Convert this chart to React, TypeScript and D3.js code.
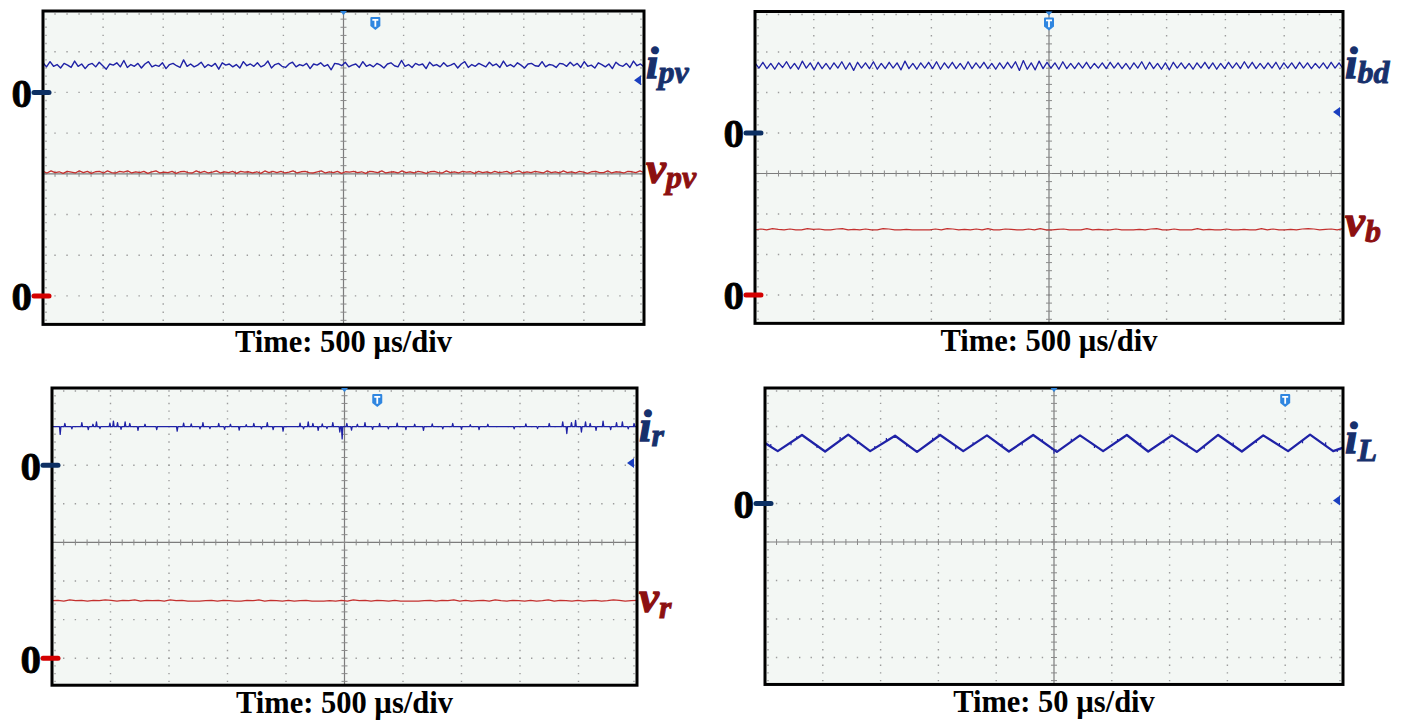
import React from "react";
import * as d3 from "d3";

const SERIF = '"Liberation Serif", "Times New Roman", Times, serif';

// ---- data (screen divisions; noise in 1/70 div for currents, 1/100 div for voltages) ----
const timeLabels = ["Time: 500 µs/div", "Time: 500 µs/div", "Time: 500 µs/div", "Time: 50 µs/div"];

const ipvLevel = 2.67;
const ipvNoise = [4,-3,6,-2,1,-5,3,0,-4,7,-2,2,-6,1,3,-3,5,-1,-7,2,0,4,-3,8,-4,1,-2,3,-5,2,6,-3,0,-2,4,-6,1,3,-1,-4,9,-2,2,-3,0,5,-4,1,-2,3,-7,4,0,2,-3,1,-5,6,-1,2,-2,4,-3,0,7,-5,1,3,-2,-4,2,5,-3,1,-1,3,-6,2,0,4,-2,1,-8,3,2,-1,5,-3,0,2,-4,6,-2,1,-3,3,0,-5,2,4,-1,-3,8,-2,1,-4,3,0,2,-6,5,-1,1,-3,4,-2,0,3,-5,2,6,-4,1,-2,3,0,-3,5,-1,2,-4,7,-2,1,-3,4,0,-5,2,3,-1,-2,6,-3,1,0,-4,3,2,-2,5,-1,3,-4,6,-2,0,-5,4,1,-3,2,-6,5,0,-2,3,-4,7,-1,2,-3];
const vpvLevel = 0.04;
const vpvNoise = [2,-2,3,-1,1,-3,2,0,-2,3,-1,2,-3,1,2,-2,3,-1,-2,2,0,3,-2,1,-1,2,-3,1,3,-2,0,-1,2,-3,1,2,-1,-2,3,-1,2,-2,0,3,-2,1,-1,2,-3,2,0,1,-2,1,-3,3,-1,2,-1,2,-2,0,3,-2,1,2,-1,-2,1,3,-2,1,-1,2,-3,1,0,2,-1,1,-3,2,1,-1,3,-2,0,1,-2,3,-1,1,-2,2,0,-3,1,2,-1,-2,3,-1,1,-2,2,0,1,-3,2,-1,1,-2,2,-1,0,2,-3,1,3,-2,1,-1,2,0,-2,3,-1,1,-2,3,-1,1,-2,2,0,-3,1,2,-1,-1,3,-2,1,0,-2,2,1,-1,3,-1];

const ibdLevel = 2.66;
const ibdNoise = [5,-4,6,-5,4,-6,5,-3,7,-5,4,-6,8,-4,5,-7,6,-5,4,-6,5,-4,7,-6,5,-8,6,-4,5,-5,7,-6,4,-5,6,-4,5,-7,8,-5,4,-6,5,-4,6,-5,7,-6,5,-4,6,-5,4,-6,7,-5,5,-4,6,-5,4,-6,5,-5,6,-4,7,-8,9,-6,5,-7,8,-5,6,-4,5,-6,7,-5,4,-5,5,-4,6,-5,4,-4,5,-5,6,-4,5,-5,4,-6,5,-4,7,-6,6,-5,4,-6,5,-7,6,-4,5,-5,4,-6,5,-4,6,-5,5,-6,4,-5,6,-4,5,-5,7,-4,6,-5,4,-5,5,-4,6,-6,5,-4,5,-5,6,-4,5,-5,4,-4,5,-5,6,-4,5,-5];
const vbLevel = -1.39;
const vbNoise = [0,2,0,3,1,0,2,0,0,3,1,2,0,0,2,3,0,1,0,2,0,0,3,2,0,0,1,0,0,0,0,2,0,3,2,0,1,0,2,0,3,0,0,2,1,0,0,2,0,3,0,0,1,2,0,0,0,3,0,1,0,0,2,0,0,0,1,0,2,3,0,0,2,0,0,0,3,0,1,0,0,2,0,0,1,0,0,3,0,2,0,0,1,0,2,3,2,0,1,2,0,3];

const irLevel = 3.0;
const irSpikeX = [0.14,0.22,0.34,0.51,0.62,0.7,0.76,0.82,0.99,1.05,1.12,1.18,1.25,1.33,1.47,1.59,1.79,2.14,2.25,2.38,2.53,2.58,2.7,2.85,2.95,3.05,3.2,3.32,3.45,3.58,3.68,3.78,3.95,4.24,4.3,4.38,4.46,4.55,4.62,4.7,4.8,4.92,4.96,5.04,5.12,5.22,5.35,5.48,5.6,5.75,5.9,6.05,6.2,6.35,6.5,6.68,6.85,7.0,7.15,7.3,7.45,7.9,8.1,8.3,8.5,8.73,8.8,8.88,8.95,9.05,9.12,9.2,9.3,9.42,9.55,9.65,9.75,9.85,9.95];
const irSpikeH = [-20,8,-6,10,-8,6,12,-5,9,14,10,-7,12,8,-10,6,-8,-12,9,7,-6,10,-5,8,-7,6,-9,5,8,-6,10,-8,-12,9,-6,12,8,-10,7,-5,10,-14,-32,8,-9,6,10,-7,8,-6,9,-8,6,-10,7,-6,8,-7,5,-8,6,-6,7,-5,8,12,-18,10,16,-14,12,8,-10,14,-8,10,12,-6,8];
const vrLevel = -1.52;
const vrNoise = [1,2,0,3,1,2,0,2,1,3,2,0,2,1,3,0,2,1,2,0,3,1,2,0,0,0,1,2,0,2,1,0,0,2,1,3,0,2,1,0,2,0,1,2,0,0,0,1,0,2,0,3,1,2,0,2,1,0,2,0,0,0,0,1,2,0,2,1,3,0,2,0,1,2,0,3,1,0,2,1,0,2,0,1,3,0,2,1,0,2,0,1,2,0,1,3,2,0,1,2];

const iLx = [0,0.22,0.64,1.04,1.44,1.82,2.25,2.63,3.03,3.43,3.84,4.22,4.64,5.05,5.45,5.85,6.26,6.63,7.04,7.47,7.84,8.25,8.62,9.05,9.43,9.83,10];
const iLy = [2.57,2.36,2.78,2.35,2.79,2.36,2.76,2.34,2.78,2.36,2.77,2.35,2.78,2.34,2.77,2.36,2.78,2.35,2.77,2.34,2.78,2.35,2.77,2.36,2.79,2.36,2.45];
const iLSpikeX = [0.1,0.45,0.55,0.9,1.3,1.6,1.9,2.1,2.45,2.9,3.3,3.6,4.1,4.45,4.8,5.0,5.3,5.7,6.1,6.5,6.9,7.3,7.6,8.1,8.5,8.9,9.3,9.7,9.9];
const iLSpikeH = [7,-8,6,-6,9,-7,6,8,-6,7,-9,6,7,-8,6,-10,7,-7,6,8,-6,7,-7,8,-6,7,-8,9,-6];

// zero marker levels, right-edge level markers, trigger-marker positions
const zeroI = [2, 1, 2, 1];
const zeroV = [-3, -3, -3, null];
const levelMarks = [2.3, 1.52, 2.06, 1.08];
const trigX = [5.53, 5.0, 5.56, 9.0];

// ---- layout ----
const VIS = 7.7;
const IUNIT = 1 / 70;
const VUNIT = 1 / 100;
const boxes = [
  { x0: 43, x1: 644, y0: 11, div: 40.7 },
  { x0: 755, x1: 1343, y0: 11.5, div: 40.5 },
  { x0: 52, x1: 637, y0: 388, div: 38.6 },
  { x0: 765, x1: 1343, y0: 388, div: 38.5 },
];

const BLUE = "#1f22a6";
const RED = "#c4302e";
const NAVY_LBL = "#17306c";
const RED_LBL = "#8c1010";
const NAVY_MK = "#0c2f63";
const RED_MK = "#d40000";
const MARK = "#2f86e0";

type Pt = [number, number];
const noisePts = (level: number, noise: number[], unit: number): Pt[] =>
  noise.map((n, k) => [(k / (noise.length - 1)) * 10, level + n * unit]);

const spikePts = (level: number, xs: number[], hs: number[]): Pt[] => {
  const pts: Pt[] = [[0, level]];
  xs.forEach((x, k) => {
    pts.push([x - 0.012, level], [x, level + hs[k] / 100], [x + 0.012, level]);
  });
  pts.push([10, level]);
  return pts;
};

type Lbl = { main: string; sub: string; color: string; dy: number; sdy: number; level: number };

function Scope({ idx, traces, labels }: { idx: number; traces: { pts: Pt[]; color: string; w: number }[]; labels: Lbl[] }) {
  const b = boxes[idx];
  const x = d3.scaleLinear().domain([0, 10]).range([b.x0, b.x1]);
  const y = d3.scaleLinear().domain([4, 4 - VIS]).range([b.y0, b.y0 + VIS * b.div]);
  const bottom = y(4 - VIS);
  const line = d3.line<Pt>().x((d) => x(d[0])).y((d) => y(d[1]));
  const clip = `clip${idx}`;
  const hStep = x(0.2) - x(0);
  const vStep = y(3.8) - y(4);
  const minor = d3.range(0, 10.001, 0.2);
  const minorV = d3.range(4, 4 - VIS, -0.2);

  let iLExtra: React.ReactNode = null;
  if (idx === 3) {
    const base = d3.scaleLinear().domain(iLx).range(iLy);
    iLExtra = iLSpikeX.map((sx, k) => (
      <line key={k} x1={x(sx)} x2={x(sx)} y1={y(base(sx))} y2={y(base(sx) + iLSpikeH[k] / 100)} stroke={BLUE} strokeWidth={1.2} />
    ));
  }

  return (
    <g>
      <defs>
        <clipPath id={clip}>
          <rect x={b.x0} y={b.y0} width={b.x1 - b.x0} height={bottom - b.y0} />
        </clipPath>
      </defs>
      <rect x={b.x0} y={b.y0} width={b.x1 - b.x0} height={bottom - b.y0} fill="#f3f7f4" />
      <g clipPath={`url(#${clip})`}>
        {[4, 3, 2, 1, -1, -2, -3].map((v) => (
          <line key={"h" + v} x1={b.x0 - 0.7} x2={b.x1} y1={y(v) + (v === 4 ? 3 : 0)} y2={y(v) + (v === 4 ? 3 : 0)}
            stroke="#9c9c9c" strokeWidth={1.4} strokeDasharray={`1.4 ${hStep - 1.4}`} />
        ))}
        {d3.range(0, 11).filter((k) => k !== 5).map((k) => (
          <line key={"v" + k} x1={x(k) + (k === 0 ? 3 : k === 10 ? -3 : 0)} x2={x(k) + (k === 0 ? 3 : k === 10 ? -3 : 0)}
            y1={b.y0 - 0.7} y2={bottom} stroke="#9c9c9c" strokeWidth={1.4} strokeDasharray={`1.4 ${vStep - 1.4}`} />
        ))}
        <line x1={b.x0} x2={b.x1} y1={y(0)} y2={y(0)} stroke="#7c7c7c" strokeWidth={1.2} />
        <line x1={x(5)} x2={x(5)} y1={b.y0} y2={bottom} stroke="#7c7c7c" strokeWidth={1.2} />
        {minor.map((m, k) => (
          <line key={"tx" + k} x1={x(m)} x2={x(m)} y1={y(0) - 3} y2={y(0) + 3} stroke="#8a8a8a" strokeWidth={1} />
        ))}
        {minorV.map((m, k) => (
          <line key={"ty" + k} x1={x(5) - 3} x2={x(5) + 3} y1={y(m)} y2={y(m)} stroke="#8a8a8a" strokeWidth={1} />
        ))}
        {traces.map((t, k) => (
          <path key={k} d={line(t.pts) ?? ""} fill="none" stroke={t.color} strokeWidth={t.w} strokeLinejoin="round" />
        ))}
        {iLExtra}
      </g>
      <rect x={b.x0} y={b.y0} width={b.x1 - b.x0} height={bottom - b.y0} fill="none" stroke="#000" strokeWidth={3} />
      {/* trigger position and trigger marker */}
      <path d={`M${x(5) - 3.5},${b.y0} h7 l-3.5,4 z`} fill={MARK} />
      <g transform={`translate(${x(trigX[idx])},${b.y0 + 6})`}>
        <path d="M-5,1 q0,-1 1,-1 h8 q1,0 1,1 v8 l-5,4 l-5,-4 z" fill={MARK} />
        <path d="M-3,2 h6 v1.8 h-2.1 v6 h-1.8 v-6 h-2.1 z" fill="#fff" />
      </g>
      <path d={`M${b.x1 - 3},${y(levelMarks[idx]) - 5} v10 l-7,-5 z`} fill="#1a3fbf" />
      {/* zero markers */}
      {[zeroI[idx], zeroV[idx]].map((z, k) =>
        z === null ? null : (
          <g key={"z" + k}>
            <line x1={b.x0 - 9} x2={b.x0 + 6} y1={y(z)} y2={y(z)} stroke={k === 0 ? NAVY_MK : RED_MK} strokeWidth={5} strokeLinecap="round" />
            <text x={b.x0 - 11} y={y(z)} dy="0.35em" textAnchor="end" fontFamily={SERIF} fontWeight="bold" fontSize={41}
              fill="#000" stroke="#000" strokeWidth={0.8}>0</text>
          </g>
        )
      )}
      {labels.map((l, k) => (
        <text key={"l" + k} x={b.x1 + 2} y={y(l.level) + l.dy} fontFamily={SERIF} fontWeight="bold" fontStyle="italic" fontSize={45}
          fill={l.color} stroke={l.color} strokeWidth={1.3}>
          {l.main}
          <tspan fontSize={32} dy={l.sdy} strokeWidth={0.9}>{l.sub}</tspan>
        </text>
      ))}
      <text x={x(5)} y={bottom + 28} textAnchor="middle" fontFamily={SERIF} fontWeight="bold" fontSize={30.5} fill="#000">
        {timeLabels[idx]}
      </text>
    </g>
  );
}

export default function App() {
  return (
    <svg width={1401} height={725} style={{ position: "absolute", left: 0, top: 0, background: "#fff" }}>
      <Scope
        idx={0}
        traces={[
          { pts: noisePts(vpvLevel, vpvNoise, VUNIT), color: RED, w: 1.3 },
          { pts: noisePts(ipvLevel, ipvNoise, IUNIT), color: BLUE, w: 1.4 },
        ]}
        labels={[
          { main: "i", sub: "pv", color: NAVY_LBL, dy: 13, sdy: 5, level: ipvLevel },
          { main: "v", sub: "pv", color: RED_LBL, dy: 11, sdy: 5, level: vpvLevel },
        ]}
      />
      <Scope
        idx={1}
        traces={[
          { pts: noisePts(vbLevel, vbNoise, VUNIT), color: RED, w: 1.2 },
          { pts: noisePts(ibdLevel, ibdNoise, IUNIT), color: BLUE, w: 1.3 },
        ]}
        labels={[
          { main: "i", sub: "bd", color: NAVY_LBL, dy: 12, sdy: 5, level: ibdLevel },
          { main: "v", sub: "b", color: RED_LBL, dy: 6, sdy: 6, level: vbLevel },
        ]}
      />
      <Scope
        idx={2}
        traces={[
          { pts: noisePts(vrLevel, vrNoise, VUNIT), color: RED, w: 1.2 },
          { pts: spikePts(irLevel, irSpikeX, irSpikeH), color: BLUE, w: 1.3 },
        ]}
        labels={[
          { main: "i", sub: "r", color: NAVY_LBL, dy: 14, sdy: 5, level: irLevel },
          { main: "v", sub: "r", color: RED_LBL, dy: 11, sdy: 6, level: vrLevel },
        ]}
      />
      <Scope
        idx={3}
        traces={[{ pts: iLx.map((v, k) => [v, iLy[k]] as Pt), color: BLUE, w: 2.3 }]}
        labels={[{ main: "i", sub: "L", color: NAVY_LBL, dy: 10, sdy: 8, level: 2.57 }]}
      />
    </svg>
  );
}
